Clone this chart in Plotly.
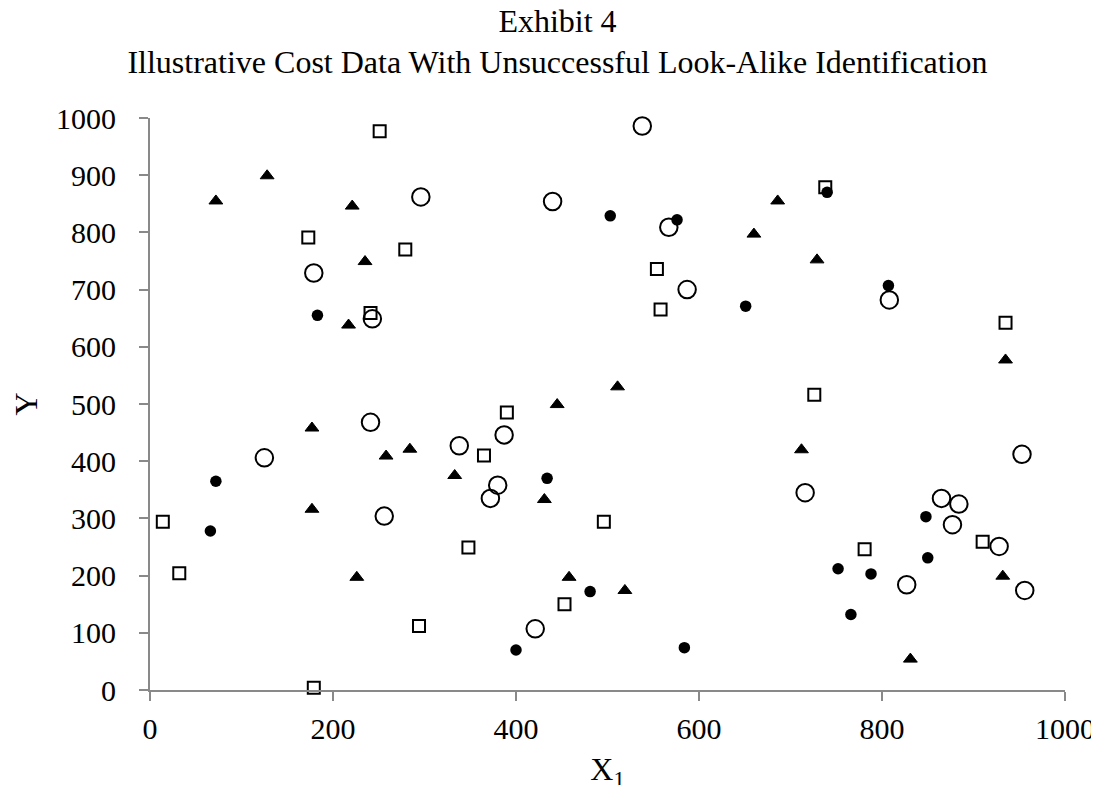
import plotly.graph_objects as go

# Filled circles
fc_x = [183, 72, 66, 503, 576, 434, 481, 400, 584, 740, 807, 651, 848, 850, 752, 788, 766]
fc_y = [655, 365, 278, 829, 822, 370, 172, 70, 74, 870, 707, 671, 303, 231, 212, 203, 132]

# Filled triangles
tr_x = [72, 128, 221, 235, 217, 177, 258, 177, 226, 511, 445, 284, 333, 431, 458, 519, 686, 660, 729, 935, 712, 932, 831]
tr_y = [855, 899, 846, 749, 638, 458, 409, 316, 197, 530, 499, 421, 375, 333, 197, 174, 855, 797, 752, 577, 420, 199, 54]

# Open squares
sq_x = [251, 173, 279, 241, 14, 32, 179, 554, 558, 390, 365, 496, 348, 453, 294, 738, 935, 726, 910, 781]
sq_y = [977, 791, 770, 659, 294, 204, 4, 736, 665, 485, 410, 294, 249, 150, 112, 879, 642, 516, 259, 246]

# Open circles
oc_x = [179, 243, 241, 125, 256, 538, 296, 440, 567, 587, 387, 338, 380, 372, 421, 808, 953, 716, 865, 884, 877, 928, 827, 956]
oc_y = [729, 649, 468, 406, 304, 986, 862, 854, 809, 700, 446, 427, 358, 335, 107, 682, 412, 345, 335, 325, 289, 251, 184, 174]

x_ticks = [0, 200, 400, 600, 800, 1000]
y_ticks = [0, 100, 200, 300, 400, 500, 600, 700, 800, 900, 1000]

FONT = "Liberation Serif, Times New Roman, serif"
AXIS_GRAY = "#898989"

fig = go.Figure()
fig.add_trace(go.Scatter(x=sq_x, y=sq_y, mode="markers", cliponaxis=False,
                         marker=dict(symbol="square", size=12, color="rgba(0,0,0,0)",
                                     line=dict(color="black", width=2))))
fig.add_trace(go.Scatter(x=oc_x, y=oc_y, mode="markers", cliponaxis=False,
                         marker=dict(symbol="circle", size=17.5, color="rgba(0,0,0,0)",
                                     line=dict(color="black", width=2))))
fig.add_trace(go.Scatter(x=fc_x, y=fc_y, mode="markers", cliponaxis=False,
                         marker=dict(symbol="circle", size=11.5, color="black",
                                     line=dict(width=0))))
fig.add_trace(go.Scatter(x=tr_x, y=tr_y, mode="markers", cliponaxis=False,
                         marker=dict(symbol="triangle-up", size=12, color="black",
                                     line=dict(color="black", width=1))))

axis_common = dict(showgrid=False, zeroline=False, showline=True,
                   linecolor=AXIS_GRAY, linewidth=2, ticks="outside",
                   tickcolor=AXIS_GRAY, tickwidth=2, ticklen=9,
                   tickfont=dict(family=FONT, size=30, color="black"))

fig.update_layout(
    width=1099, height=785,
    paper_bgcolor="white", plot_bgcolor="white",
    showlegend=False,
    margin=dict(l=142, r=37, t=110, b=100),
    title=dict(text="Exhibit 4<br>Illustrative Cost Data With Unsuccessful Look-Alike Identification",
               x=0.5, xanchor="center", xref="container",
               y=0.97, yanchor="top",
               font=dict(family=FONT, size=32, color="black")),
    xaxis=dict(range=[0, 1000], tickvals=x_ticks, ticklabelstandoff=2, **axis_common,
               title=dict(text="X<sub>1</sub>", font=dict(family=FONT, size=32, color="black"),
                          standoff=14)),
    yaxis=dict(range=[0, 1000], tickvals=y_ticks, ticklabelstandoff=17, **axis_common,
               title=dict(text="Y", font=dict(family=FONT, size=32, color="black"),
                          standoff=10)),
)

fig.write_html("out.html")
